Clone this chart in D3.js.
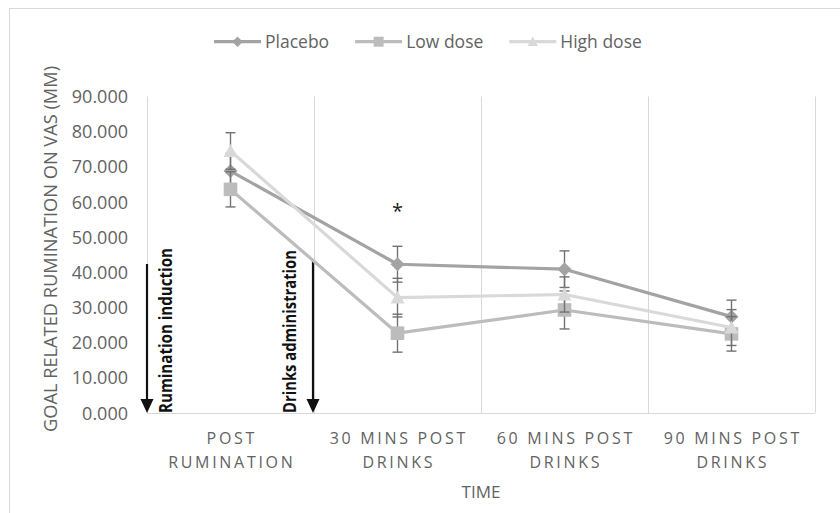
<!DOCTYPE html>
<html>
<head>
<meta charset="utf-8">
<script src="https://cdn.jsdelivr.net/npm/d3@7"></script>
<style>
  html, body { margin: 0; padding: 0; background: #fff; }
  svg { display: block; }
</style>
</head>
<body>
<svg id="chart" width="840" height="513"></svg>
<script>
// ---- data ----
const categories = ["POST RUMINATION", "30 MINS POST DRINKS", "60 MINS POST DRINKS", "90 MINS POST DRINKS"];
const categoryLines = [["POST", "RUMINATION"], ["30 MINS POST", "DRINKS"], ["60 MINS POST", "DRINKS"], ["90 MINS POST", "DRINKS"]];
const seriesNames = ["Placebo", "Low dose", "High dose"];
const placebo = [68.8, 42.3, 40.9, 27.4];
const placeboErr = [5.0, 5.1, 5.2, 4.7];
const lowDose = [63.6, 22.7, 29.3, 22.5];
const lowDoseErr = [5.0, 5.4, 5.4, 4.9];
const highDose = [74.5, 32.8, 33.7, 24.3];
const highDoseErr = [5.2, 5.5, 5.0, 5.1];
const yTicks = [0, 10, 20, 30, 40, 50, 60, 70, 80, 90];
const yTitle = "GOAL RELATED RUMINATION ON VAS (MM)";
const xTitle = "TIME";
const annotations = ["Rumination induction", "Drinks administration"];
const significance = "*";

// ---- layout ----
const svg = d3.select("#chart");
const plotLeft = 147, plotRight = 815, plotTop = 96.5, plotBottom = 413;
const x = d3.scaleBand().domain(categories).range([plotLeft, plotRight]).padding(0);
const y = d3.scaleLinear().domain([0, 90]).range([plotBottom, plotTop]);
const cx = c => x(c) + x.bandwidth() / 2;

const textColor = "#636363";
const gridColor = "#d9d9d9";

// outer chart border
svg.append("rect").attr("x", 9.5).attr("y", 8.5).attr("width", 900).attr("height", 600)
  .attr("fill", "none").attr("stroke", gridColor).attr("stroke-width", 1);

// vertical gridlines at category boundaries
const edges = categories.map(c => x(c)).concat([plotRight]);
svg.append("g").selectAll("line").data(edges).join("line")
  .attr("x1", d => Math.round(d) + 0.5).attr("x2", d => Math.round(d) + 0.5)
  .attr("y1", plotTop).attr("y2", plotBottom)
  .attr("stroke", gridColor).attr("stroke-width", 1);

// bottom axis line
svg.append("line").attr("x1", plotLeft).attr("x2", plotRight).attr("y1", plotBottom + 0.5).attr("y2", plotBottom + 0.5)
  .attr("stroke", gridColor).attr("stroke-width", 1.2);

// y axis
const yAxis = svg.append("g").attr("transform", `translate(${plotLeft},0)`)
  .call(d3.axisLeft(y).tickValues(yTicks).tickFormat(d3.format(".3f")).tickSize(0).tickPadding(19));
yAxis.select(".domain").remove();
yAxis.selectAll("text").attr("fill", textColor).attr("font-family", "'Open Sans', sans-serif")
  .attr("font-size", 18).attr("dy", "0.34em");

// x axis labels (two lines each)
const xAxis = svg.append("g").attr("transform", `translate(0,${plotBottom})`)
  .call(d3.axisBottom(x).tickSize(0).tickFormat(""));
xAxis.select(".domain").remove();
xAxis.selectAll(".tick").each(function(d, i) {
  const t = d3.select(this).append("text")
    .attr("fill", textColor).attr("font-family", "'Open Sans', sans-serif")
    .attr("font-size", 16).attr("text-anchor", "middle")
    .attr("letter-spacing", "2.7px");
  categoryLines[i].forEach((ln, j) => {
    t.append("tspan").attr("x", 1.3).attr("y", 31 + j * 24).text(ln);
  });
});

// axis titles
svg.append("text").attr("x", (plotLeft + plotRight) / 2).attr("y", 498)
  .attr("text-anchor", "middle").attr("fill", textColor)
  .attr("font-family", "'Open Sans', sans-serif").attr("font-size", 17).text(xTitle);
svg.append("text").attr("transform", "translate(56.5,249) rotate(-90)")
  .attr("text-anchor", "middle").attr("fill", textColor)
  .attr("font-family", "'Open Sans', sans-serif").attr("font-size", 18)
  .attr("textLength", 366).attr("lengthAdjust", "spacingAndGlyphs").text(yTitle);

// annotation arrows
function arrow(xp, y1, y2) {
  svg.append("line").attr("x1", xp).attr("x2", xp).attr("y1", y1).attr("y2", y2 - 10)
    .attr("stroke", "#111").attr("stroke-width", 2.2);
  svg.append("path").attr("d", `M${xp - 6.5},${y2 - 14} L${xp + 6.5},${y2 - 14} L${xp},${y2} Z`).attr("fill", "#111");
}
arrow(147, 264, 413);
arrow(313, 260.5, 413);
svg.append("text").attr("transform", "translate(171.5,413) rotate(-90)")
  .attr("font-family", "'Liberation Sans Narrow', 'Open Sans', sans-serif").attr("font-weight", "bold")
  .attr("font-size", 17).attr("fill", "#111")
  .attr("textLength", 165).attr("lengthAdjust", "spacingAndGlyphs").text(annotations[0]);
svg.append("text").attr("transform", "translate(296,413) rotate(-90)")
  .attr("font-family", "'Liberation Sans Narrow', 'Open Sans', sans-serif").attr("font-weight", "bold")
  .attr("font-size", 17).attr("fill", "#111")
  .attr("textLength", 163).attr("lengthAdjust", "spacingAndGlyphs").text(annotations[1]);

// significance marker
svg.append("text").attr("x", cx(categories[1])).attr("y", 218)
  .attr("text-anchor", "middle").attr("font-family", "'Open Sans', sans-serif")
  .attr("font-size", 20).attr("fill", "#222").text(significance);

// marker shapes
const shapes = {
  diamond: s => `M0,${-s} L${s},0 L0,${s} L${-s},0 Z`,
  square: s => `M${-s},${-s} H${s} V${s} H${-s} Z`,
  triangle: s => `M0,${-s} L${s},${s * 0.85} L${-s},${s * 0.85} Z`
};

const series = [
  { name: seriesNames[0], values: placebo, err: placeboErr, color: "#a3a3a3", shape: "diamond", size: 7 },
  { name: seriesNames[1], values: lowDose, err: lowDoseErr, color: "#bcbcbc", shape: "square", size: 6.8 },
  { name: seriesNames[2], values: highDose, err: highDoseErr, color: "#d9d9d9", shape: "triangle", size: 7 }
];

const line = d3.line().x((d, i) => cx(categories[i])).y(d => y(d));
const errColor = "#727272";

series.forEach(s => {
  const g = svg.append("g");
  g.append("path").datum(s.values).attr("d", line)
    .attr("fill", "none").attr("stroke", s.color).attr("stroke-width", 3.2)
    .attr("stroke-linejoin", "round");
  const eb = g.append("g").selectAll("g").data(s.values).join("g");
  eb.append("line")
    .attr("x1", (d, i) => cx(categories[i])).attr("x2", (d, i) => cx(categories[i]))
    .attr("y1", (d, i) => y(d + s.err[i])).attr("y2", (d, i) => y(d - s.err[i]))
    .attr("stroke", errColor).attr("stroke-width", 1.4);
  [1, -1].forEach(sign => {
    eb.append("line")
      .attr("x1", (d, i) => cx(categories[i]) - 5).attr("x2", (d, i) => cx(categories[i]) + 5)
      .attr("y1", (d, i) => y(d + sign * s.err[i])).attr("y2", (d, i) => y(d + sign * s.err[i]))
      .attr("stroke", errColor).attr("stroke-width", 1.4);
  });
  g.append("g").selectAll("path").data(s.values).join("path")
    .attr("transform", (d, i) => `translate(${cx(categories[i])},${y(d)})`)
    .attr("d", shapes[s.shape](s.size)).attr("fill", s.color);
});

// legend
const legend = svg.append("g");
let lx = 214;
const ly = 41.7;
series.forEach(s => {
  legend.append("line").attr("x1", lx).attr("x2", lx + 47).attr("y1", ly).attr("y2", ly)
    .attr("stroke", s.color).attr("stroke-width", 3.2);
  legend.append("path").attr("transform", `translate(${lx + 23.5},${ly})`)
    .attr("d", shapes[s.shape](s.shape === "square" ? 5 : 5.2)).attr("fill", s.color);
  const t = legend.append("text").attr("x", lx + 51).attr("y", ly + 6.6)
    .attr("font-family", "'Open Sans', sans-serif").attr("font-size", 17.5)
    .attr("fill", textColor).text(s.name);
  lx = lx + 51 + t.node().getComputedTextLength() + 26;
});
</script>
</body>
</html>
